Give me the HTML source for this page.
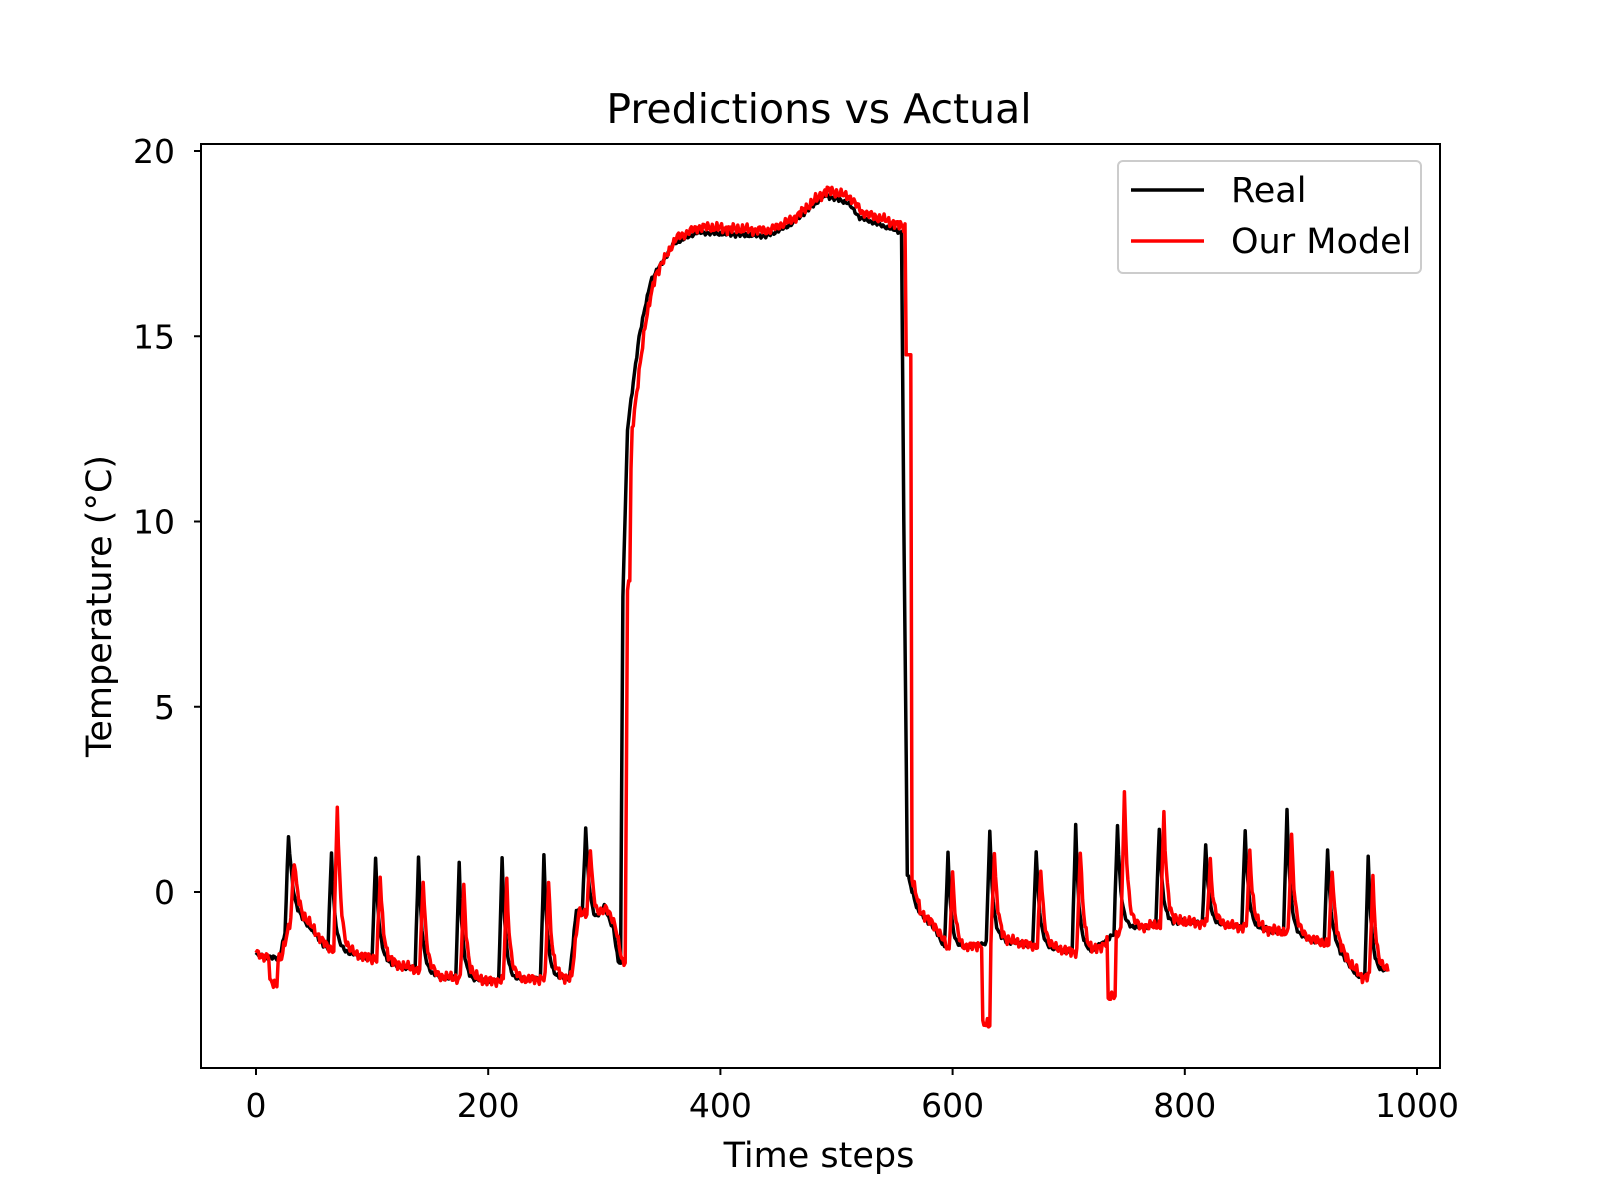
<!DOCTYPE html>
<html><head><meta charset="utf-8"><style>
body{margin:0;background:#fff;}
svg{display:block;font-family:"DejaVu Sans","Liberation Sans",sans-serif;}
</style></head><body>
<svg id="s" width="1600" height="1200" viewBox="0 0 1600 1200">
<rect width="1600" height="1200" fill="#fff"/>
<text x="819" y="123" font-size="41" text-anchor="middle" fill="#000">Predictions vs Actual</text>
<g id="plot"></g>
<rect x="201" y="144" width="1239" height="924" fill="none" stroke="#000" stroke-width="2"/>
<g font-size="33" fill="#000" id="ticks"></g>
<text x="819" y="1167" font-size="35" text-anchor="middle">Time steps</text>
<text transform="translate(111,606) rotate(-90)" font-size="35" text-anchor="middle">Temperature (°C)</text>
<rect x="1118" y="161" width="303" height="112" rx="5" fill="#fff" fill-opacity="0.8" stroke="#ccc" stroke-width="2"/>
<line x1="1131" y1="190" x2="1204" y2="190" stroke="#000" stroke-width="3.5"/>
<line x1="1131" y1="241" x2="1204" y2="241" stroke="#f00" stroke-width="3.5"/>
<text x="1231" y="202" font-size="35">Real</text>
<text x="1231" y="253" font-size="35">Our Model</text>
</svg>
<script>
var X=function(v){return 256+v*1.161;},Y=function(v){return 892-v*37.05;};
var t=document.getElementById('ticks'),h='';
[0,200,400,600,800,1000].forEach(function(v){var x=X(v);h+='<line x1="'+x+'" y1="1068" x2="'+x+'" y2="1075" stroke="#000" stroke-width="2"/><text x="'+x+'" y="1117" text-anchor="middle">'+v+'</text>';});
[0,5,10,15,20].forEach(function(v){var y=Y(v);h+='<line x1="194" y1="'+y+'" x2="201" y2="'+y+'" stroke="#000" stroke-width="2"/><text x="175" y="'+(y+12)+'" text-anchor="end">'+v+'</text>';});
t.innerHTML=h;
function interp(k,x){for(var i=0;i<k.length-1;i++){if(x<=k[i+1][0]){var a=k[i],b=k[i+1];return a[1]+(b[1]-a[1])*(x-a[0])/(b[0]-a[0]);}}return k[k.length-1][1];}
var base=[[0,-1.7],[20,-1.8],[30,-0.4],[45,-0.9],[60,-1.5],[100,-1.8],[137,-2.1],[160,-2.3],[200,-2.4],[270,-2.3],[276,-0.5],[292,-0.8],[300,-0.4],[308,-1.0],[312,-1.9],[314,-1.9],[316,8],[320,12.5],[330,15],[340,16.5],[360,17.5],[380,17.8],[440,17.7],[460,18.0],[490,18.8],[510,18.6],[520,18.2],[556,17.8],[558,10],[561,0.5],[570,-0.5],[585,-1.0],[595,-1.6],[640,-1.3],[700,-1.6],[720,-1.6],[745,-1.0],[800,-0.8],[870,-1.0],[900,-1.2],[930,-1.5],[950,-2.3],[975,-2.1]];
var sp=[[28,2.2],[65,2.6],[103,2.8],[140,3.1],[175,3.1],[212,3.3],[248,3.3],[284,2.4],[596,2.6],[632,3.0],[672,2.6],[706,3.4],[742,2.9],[778,2.6],[818,2.1],[852,2.6],[888,3.3],[923,2.6],[958,3.2]];
function spike(x,list){var s=0;list.forEach(function(p){var d=x-p[0];if(d>=-3&&d<0)s+=p[1]*(d+3)/3;else if(d>=0&&d<25)s+=p[1]*Math.exp(-d/3);});return s;}
function noise(i,a){return a*(Math.sin(i*1.7)*0.5+Math.sin(i*3.1)*0.3+Math.sin(i*0.53)*0.2);}
var real=[],red=[];
for(var i=0;i<=975;i++){var b=interp(base,i);real.push(b+spike(i,sp)+(b>15?noise(i,0.07):noise(i,0.08)));}
var rsp=sp.map(function(p){return [p[0]+4,p[1]*0.8];});
rsp[1]=[70,3.9];rsp[12]=[748,3.6];rsp[13]=[782,2.9];rsp[0]=[33,1.3];
var rb=base.map(function(p){return [p[0]+(p[0]>=312&&p[0]<=340?4:(p[0]>=556&&p[0]<=562?3:2)),p[1]];});
rb.splice(0,0,[0,-1.6]);
for(var i=0;i<=975;i++){var b=interp(rb,i);var v=b+spike(i,rsp)+(b>15?noise(i+7,0.17)+0.15:noise(i+3,0.18));
if(i>=12&&i<=18)v-=0.7; if(i>=626&&i<=632)v-=2.2; if(i>=734&&i<=740)v-=1.6; if(i>=318&&i<=322)v=Math.min(v,8.4);
if(i>=560&&i<=564)v=Math.max(v,14.5);
red.push(v);}
function path(a,c){var d='';a.forEach(function(v,i){d+=(i?'L':'M')+X(i).toFixed(1)+' '+Y(v).toFixed(1);});return '<path d="'+d+'" fill="none" stroke="'+c+'" stroke-width="3.5" stroke-linejoin="round"/>';}
document.getElementById('plot').innerHTML=path(real,'#000')+path(red,'#f00');
</script>
</body></html>
